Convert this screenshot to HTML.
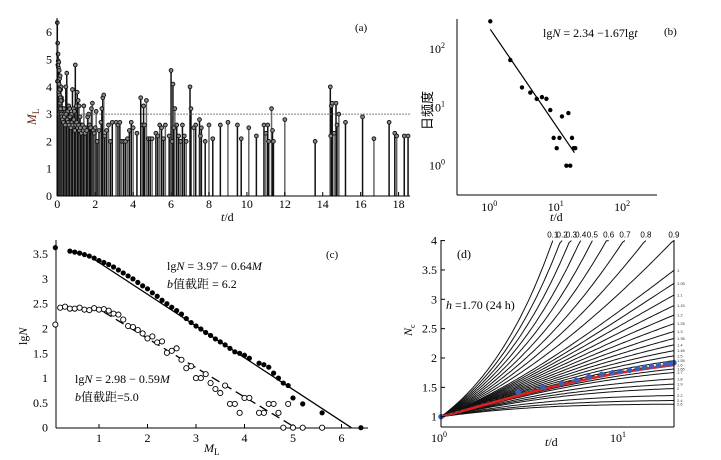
<!DOCTYPE html>
<html><head><meta charset="utf-8"><style>
html,body{margin:0;padding:0;background:#fff}
svg{display:block;font-family:"Liberation Serif","Noto Serif CJK SC",serif}
</style></head><body>
<svg id="s" width="721" height="460" viewBox="0 0 721 460">
<g id="ga"></g>
<g id="gb"></g>
<g id="gc"></g>
<g id="gd"></g>
</svg>
<script>
// ---------- data panel (a) ----------
const aTimes=[0,0.02,0.04,0.05,0.06,0.08,0.1,0.12,0.15,0.18,0.2,0.22,0.25,0.28,0.3,0.35,0.4,0.45,0.5,0.55,0.6,0.65,0.7,0.75,0.8,0.85,0.9,0.95,1.0,1.05,1.1,1.15,1.2,1.3,1.4,1.5,1.6,1.65,1.7,1.8,1.85,1.9,2.0,2.05,2.1,2.2,2.3,2.35,2.4,2.45,2.5,2.6,2.7,2.8,2.9,3.1,3.2,3.3,3.4,3.5,3.6,3.7,3.8,3.9,4.0,4.2,4.4,4.5,4.55,4.6,4.7,4.8,4.9,5.0,5.2,5.3,5.4,5.5,5.6,5.7,5.9,6.0,6.05,6.1,6.15,6.2,6.3,6.4,6.5,6.6,6.7,6.8,7.0,7.05,7.2,7.3,7.5,7.55,7.6,7.8,8.0,8.2,8.6,9.0,9.5,9.7,10.1,10.5,10.9,11.0,11.1,11.15,11.3,11.35,11.4,12.0,13.6,14.4,14.42,14.45,14.5,14.6,14.7,14.75,14.85,15.2,16.1,16.7,17.5,17.8,17.9,18.3,18.5,
0.01,0.03,0.07,0.09,0.11,0.13,0.14,0.16,0.17,0.19,0.21,0.24,0.27,0.32,0.37,0.42,0.47,0.52,0.57,0.62,0.67,0.72,0.77,0.82,0.87,0.92,0.97,1.02,1.07,1.12,1.17,1.22,1.27,1.33,1.37,1.43,1.47,1.55,1.75,1.95];
const aMags=[6.35,5.6,5.2,4.95,4.7,4.9,4.6,4.3,4.4,3.9,4.0,3.6,3.5,3.2,3.0,3.2,2.8,4.0,4.5,3.1,3.3,3.2,2.9,3.0,3.9,3.2,3.1,4.8,3.3,3.8,3.5,3.3,2.9,2.6,3.3,2.5,2.9,3.0,2.6,3.2,3.4,2.4,2.5,3.1,2.0,2.4,2.7,3.2,3.6,3.7,2.2,2.4,2.6,2.0,2.7,2.7,2.6,2.7,2.0,2.0,2.0,2.1,2.4,2.7,2.5,2.3,3.6,2.6,3.3,2.6,3.5,2.1,2.1,2.1,2.3,2.2,2.6,2.5,2.1,2.6,2.2,4.6,2.0,4.1,2.5,3.2,2.6,2.2,2.0,2.6,2.2,2.0,4.0,3.2,2.5,2.6,2.8,2.2,2.5,2.0,2.6,2.1,2.6,2.7,2.6,2.1,2.5,2.2,2.6,2.3,2.6,2.0,3.2,2.4,2.0,2.8,2.0,4.0,2.2,3.3,3.4,2.3,3.4,2.6,3.0,2.7,2.9,2.1,2.7,2.3,2.2,2.2,2.2,
4.2,4.8,3.8,4.1,3.7,3.9,3.4,3.6,3.2,3.5,3.0,2.9,2.8,2.7,2.9,2.6,3.0,2.8,2.7,2.6,2.9,2.5,2.7,2.6,2.8,2.4,2.6,2.7,2.5,2.6,2.4,2.5,2.3,2.6,2.4,2.5,2.3,2.4,2.5,2.3];
const aXTicks=[0,2,4,6,8,10,12,14,16,18];
const aYTicks=[0,1,2,3,4,5,6];
// ---------- data panel (b) ----------
const bDays=[1,2,3,4,5,6,7,8,9,10,11,12,14,15,16,17,18,19];
const bCounts=[300,65,22,18,14,15,14,9,3,2,3,7,1,8,1,3,2,2];
const bFit=[2.34,-1.67]; // intercept, slope
const bXTicks=[0,1,2];
const bYTicks=[0,1,2];
// ---------- data panel (c) ----------
const cFilledM=[0.1,0.4,0.5,0.6,0.7,0.8,0.9,1.0,1.1,1.2,1.3,1.4,1.5,1.6,1.7,1.8,1.9,2.0,2.1,2.2,2.3,2.4,2.5,2.6,2.7,2.8,2.9,3.0,3.1,3.2,3.3,3.4,3.5,3.6,3.7,3.8,3.9,4.0,4.1,4.3,4.4,4.5,4.6,4.7,4.8,4.9,5.0,5.2,5.6,6.4];
const cFilledN=[3.63,3.56,3.54,3.52,3.49,3.46,3.42,3.37,3.33,3.29,3.24,3.18,3.12,3.06,3.0,2.93,2.86,2.8,2.72,2.65,2.57,2.5,2.43,2.36,2.29,2.2,2.12,2.05,1.99,1.92,1.86,1.79,1.73,1.67,1.6,1.53,1.5,1.46,1.4,1.3,1.27,1.22,1.1,1.0,0.9,0.85,0.6,0.48,0.3,0];
const cOpenM=[0.1,0.2,0.3,0.4,0.5,0.6,0.7,0.8,0.9,1.0,1.1,1.2,1.3,1.4,1.5,1.6,1.7,1.8,1.9,2.0,2.1,2.2,2.3,2.4,2.5,2.6,2.7,2.8,2.9,3.0,3.1,3.2,3.3,3.4,3.5,3.6,3.7,3.8,3.9,4.0,4.1,4.3,4.4,4.5,4.6,4.7,4.8,4.9,5.0,5.2,5.6];
const cOpenN=[2.08,2.42,2.44,2.4,2.4,2.42,2.38,2.37,2.41,2.38,2.39,2.36,2.3,2.28,2.18,2.05,2.03,1.97,1.9,1.8,1.84,1.72,1.74,1.51,1.55,1.6,1.37,1.2,1.24,1.0,1.0,1.08,0.9,0.78,0.7,0.85,0.48,0.48,0.3,0.6,0.6,0.3,0.3,0.48,0.48,0.3,0,0.48,0,0,0];
const cFit1=[3.97,-0.64];
const cFit2=[2.98,-0.59];
const cXTicks=[1,2,3,4,5,6];
const cYTicks=[0,0.5,1,1.5,2,2.5,3,3.5];
// ---------- data panel (d) ----------
const dTopP=[0.1,0.2,0.3,0.4,0.5,0.6,0.7,0.8,0.9];
const dRightP=[1.0,1.05,1.1,1.15,1.2,1.25,1.3,1.35,1.4,1.45,1.5,1.55,1.6,1.65,1.7,1.8,1.9,2.0,2.2,2.4,2.6];
const dRedP=[1.6];
const dObsT=[1,2.7,3.7,4.7,5.7,6.7,7.9,9.1,10,11.3,12.5,13.7,15,16.4,18,19,20];
const dObsN=[1,1.42,1.5,1.57,1.62,1.68,1.72,1.75,1.77,1.79,1.82,1.84,1.86,1.88,1.9,1.9,1.92];
const dYTicks=[1,1.5,2,2.5,3,3.5,4];
const dK=1.06, dC=1;

const NS='http://www.w3.org/2000/svg';
function mk(parent,tag,attrs,text){const e=document.createElementNS(NS,tag);for(const k in attrs)e.setAttribute(k,attrs[k]);if(text!==undefined)e.textContent=text;parent.appendChild(e);return e;}

// ===== panel a =====
(function(){
const g=document.getElementById('ga');
const X=t=>57.3+t*18.96, Y=m=>196-m*27.3;
let e;
for(let i=0;i<aTimes.length;i++){
  const col=(i%3===1)?'#666':'#111';
  e=mk(g,'line',{x1:X(aTimes[i]),x2:X(aTimes[i]),y1:Y(0),y2:Y(aMags[i]),stroke:col,'stroke-width':1.5});
  
  
}
for(let i=0;i<aTimes.length;i++){
  e=mk(g,'circle',{cx:X(aTimes[i]),cy:Y(aMags[i]),r:1.9,fill:'#888',stroke:'#111','stroke-width':0.9});
  
  
}
e=mk(g,'line',{x1:X(0),x2:410,y1:Y(3),y2:Y(3),stroke:'#555','stroke-width':1,'stroke-dasharray':'1.5,1.5'});

mk(g,'line',{x1:57,x2:57,y1:18,y2:196,stroke:'#000','stroke-width':1,});
mk(g,'line',{x1:57,x2:410,y1:196,y2:196,stroke:'#000','stroke-width':1,});
aXTicks.forEach(v=>{e=mk(g,'text',{x:X(v),y:208,'font-size':12,'text-anchor':'middle'},String(v));
 e=mk(g,'line',{x1:X(v),x2:X(v),y1:196,y2:192,stroke:'#000'});});
aYTicks.forEach(v=>{e=mk(g,'text',{x:52,y:Y(v)+4,'font-size':12,'text-anchor':'end'},String(v));});
mk(g,'text',{x:355,y:31,'font-size':11,},'(a)');
const yl=mk(g,'text',{x:0,y:0,'font-size':13,fill:'#6b2b1b','font-style':'italic',transform:'translate(36,125) rotate(-90)',},'M');
mk(yl,'tspan',{'font-size':9,'font-style':'normal',dy:3},'L');
const xl=mk(g,'text',{x:221,y:221,'font-size':12,});
mk(xl,'tspan',{'font-style':'italic'},'t');mk(xl,'tspan',{},'/d');
})();

// ===== panel b =====
(function(){
const g=document.getElementById('gb');
const X=t=>490.3+Math.log10(t)*66.4, Y=n=>165.7-Math.log10(n)*58.3;
let e;
mk(g,'line',{x1:457,x2:457,y1:19,y2:195,stroke:'#000',});
mk(g,'line',{x1:457,x2:657,y1:195,y2:195,stroke:'#000',});
bXTicks.forEach(p=>{const x=490.3+p*66.4;
 e=mk(g,'text',{x:x-1,y:211,'font-size':12,'text-anchor':'middle'},'10');
 mk(e,'tspan',{'font-size':8,dy:-5},String(p));});
bYTicks.forEach(p=>{const y=165.7-p*58.3;
 e=mk(g,'text',{x:445,y:y+4,'font-size':12,'text-anchor':'end'},'10');
 mk(e,'tspan',{'font-size':8,dy:-5},String(p));});
const t0=1,t1=18.5;
e=mk(g,'line',{x1:X(t0),y1:Y(Math.pow(10,bFit[0]+bFit[1]*Math.log10(t0))),x2:X(t1),y2:Y(Math.pow(10,bFit[0]+bFit[1]*Math.log10(t1))),stroke:'#000','stroke-width':1.2});

for(let i=0;i<bDays.length;i++){e=mk(g,'circle',{cx:X(bDays[i]),cy:Y(bCounts[i]),r:2.2,fill:'#000'});
 }
const eq=mk(g,'text',{x:543,y:37,'font-size':12,},'lg');
mk(eq,'tspan',{'font-style':'italic'},'N');mk(eq,'tspan',{},' = 2.34 −1.67lg');mk(eq,'tspan',{'font-style':'italic'},'t');
mk(g,'text',{x:664,y:35,'font-size':11,},'(b)');
mk(g,'text',{x:0,y:0,'font-size':13,'font-family':'"Noto Sans CJK SC",sans-serif',transform:'translate(432,130) rotate(-90)',},'日频度');
const xl=mk(g,'text',{x:550,y:221,'font-size':12,});
mk(xl,'tspan',{'font-style':'italic'},'t');mk(xl,'tspan',{},'/d');
})();

// ===== panel c =====
(function(){
const g=document.getElementById('gc');
const X=m=>50.5+m*48.5, Y=n=>427.7-n*49.6;
let e;
mk(g,'line',{x1:56,x2:56,y1:240,y2:428,stroke:'#000',});
mk(g,'line',{x1:56,x2:368,y1:428,y2:428,stroke:'#000',});
cXTicks.forEach(v=>{e=mk(g,'text',{x:X(v),y:442,'font-size':12,'text-anchor':'middle'},String(v));
 e=mk(g,'line',{x1:X(v),x2:X(v),y1:428,y2:424,stroke:'#000'});});
cYTicks.forEach(v=>{e=mk(g,'text',{x:48,y:Y(v)+4,'font-size':12,'text-anchor':'end'},String(v));});
const m1a=0.9,m1b=-cFit1[0]/cFit1[1];
e=mk(g,'line',{x1:X(m1a),y1:Y(cFit1[0]+cFit1[1]*m1a),x2:X(m1b),y2:Y(0),stroke:'#000','stroke-width':1.3});

const m2a=1.1,m2b=-cFit2[0]/cFit2[1];
e=mk(g,'line',{x1:X(m2a),y1:Y(cFit2[0]+cFit2[1]*m2a),x2:X(m2b),y2:Y(0),stroke:'#000','stroke-width':1.3,'stroke-dasharray':'9,5'});

for(let i=0;i<cFilledM.length;i++){e=mk(g,'circle',{cx:X(cFilledM[i]),cy:Y(cFilledN[i]),r:2.6,fill:'#000'});
 }
for(let i=0;i<cOpenM.length;i++){e=mk(g,'circle',{cx:X(cOpenM[i]),cy:Y(cOpenN[i]),r:2.6,fill:'#fff',stroke:'#000','stroke-width':0.9});
 }
mk(g,'text',{x:326,y:258,'font-size':11,},'(c)');
let t=mk(g,'text',{x:167,y:270,'font-size':12,},'lg');
mk(t,'tspan',{'font-style':'italic'},'N');mk(t,'tspan',{},' = 3.97 − 0.64');mk(t,'tspan',{'font-style':'italic'},'M');
t=mk(g,'text',{x:167,y:288,'font-size':12,});
mk(t,'tspan',{'font-style':'italic'},'b');mk(t,'tspan',{'font-family':'"Noto Serif CJK SC",serif'},'值截距');mk(t,'tspan',{},' = 6.2');
t=mk(g,'text',{x:75,y:383,'font-size':12,},'lg');
mk(t,'tspan',{'font-style':'italic'},'N');mk(t,'tspan',{},' = 2.98 − 0.59');mk(t,'tspan',{'font-style':'italic'},'M');
t=mk(g,'text',{x:75,y:401,'font-size':12,});
mk(t,'tspan',{'font-style':'italic'},'b');mk(t,'tspan',{'font-family':'"Noto Serif CJK SC",serif'},'值截距');mk(t,'tspan',{},'=5.0');
t=mk(g,'text',{x:0,y:0,'font-size':12,transform:'translate(27,345) rotate(-90)',},'lg');
mk(t,'tspan',{'font-style':'italic'},'N');
t=mk(g,'text',{x:204,y:452,'font-size':12,'font-style':'italic',},'M');
mk(t,'tspan',{'font-size':9,'font-style':'normal',dy:3},'L');
})();

// ===== panel d =====
(function(){
const g=document.getElementById('gd');
const X=t=>441+Math.log10(t)*179, Y=n=>416.7-(n-1)*58.7;
let e;
function model(p,t){
 if(Math.abs(p-1)<1e-6) return 1+dK*Math.log((t+dC)/(1+dC));
 return 1+dK*(Math.pow(t+dC,1-p)-Math.pow(1+dC,1-p))/(1-p);}
function curve(p,tmax){const pts=[];for(let i=0;i<=100;i++){const t=Math.pow(10,Math.log10(tmax)*i/100);pts.push([t,model(p,t)]);}return pts;}
function toPath(pts){let d='';let started=false;for(const [t,n] of pts){if(n>4){d+='L'+X(t).toFixed(1)+','+Y(4).toFixed(1);break;}d+=(started?'L':'M')+X(t).toFixed(1)+','+Y(n).toFixed(1);started=true;}return d;}
const clipTop=Y(4);
dTopP.concat(dRightP).forEach(p=>{
 e=mk(g,'path',{d:toPath(curve(p,20)),fill:'none',stroke:'#111','stroke-width':1});
 });
dTopP.forEach(p=>{
 const pts=curve(p,20);let tx=20;for(const [t,n] of pts){if(n>=4){tx=t;break;}}
 e=mk(g,'text',{x:X(tx),y:clipTop-3,'font-size':8,'text-anchor':'middle','font-family':'"Liberation Sans",sans-serif'},String(p));
 });
dRightP.forEach(p=>{const n=model(p,20);
 e=mk(g,'text',{x:677,y:Y(n)+1.5,'font-size':4,fill:'#333','font-family':'"Liberation Sans",sans-serif'},String(p));
 });
dRedP.forEach(p=>{e=mk(g,'path',{d:toPath(curve(p,20)),fill:'none',stroke:'#e02020','stroke-width':2.6});
 });
let dd='';dObsT.forEach((t,i)=>{dd+=(i?'L':'M')+X(t).toFixed(1)+','+Y(dObsN[i]).toFixed(1);});
e=mk(g,'path',{d:dd,fill:'none',stroke:'#333','stroke-width':1,'stroke-dasharray':'3,3'});

for(let i=0;i<dObsT.length;i++){e=mk(g,'circle',{cx:X(dObsT[i]),cy:Y(dObsN[i]),r:2.8,fill:'#3a5fb5'});
 }
mk(g,'line',{x1:441,x2:441,y1:240,y2:427,stroke:'#000',});
mk(g,'line',{x1:441,x2:674,y1:427,y2:427,stroke:'#000',});
mk(g,'line',{x1:674,x2:674,y1:240,y2:427,stroke:'#000',});
dYTicks.forEach(v=>{e=mk(g,'text',{x:437,y:Y(v)+4,'font-size':12,'text-anchor':'end'},String(v));
 e=mk(g,'line',{x1:441,x2:445,y1:Y(v),y2:Y(v),stroke:'#000'});});
[0,1].forEach(p=>{e=mk(g,'text',{x:441+p*179-2,y:442,'font-size':12,'text-anchor':'middle'},'10');
 mk(e,'tspan',{'font-size':8,dy:-5},String(p));});
mk(g,'text',{x:457,y:258,'font-size':12,},'(d)');
let t=mk(g,'text',{x:446,y:309,'font-size':12,});
mk(t,'tspan',{'font-style':'italic'},'h');mk(t,'tspan',{},' =1.70 (24 h)');
t=mk(g,'text',{x:0,y:0,'font-size':12,'font-style':'italic',transform:'translate(412,336) rotate(-90)',},'N');
mk(t,'tspan',{'font-size':8,'font-style':'normal',dy:3},'c');
t=mk(g,'text',{x:545,y:446,'font-size':12,});
mk(t,'tspan',{'font-style':'italic'},'t');mk(t,'tspan',{},'/d');
})();
</script>
</body></html>
